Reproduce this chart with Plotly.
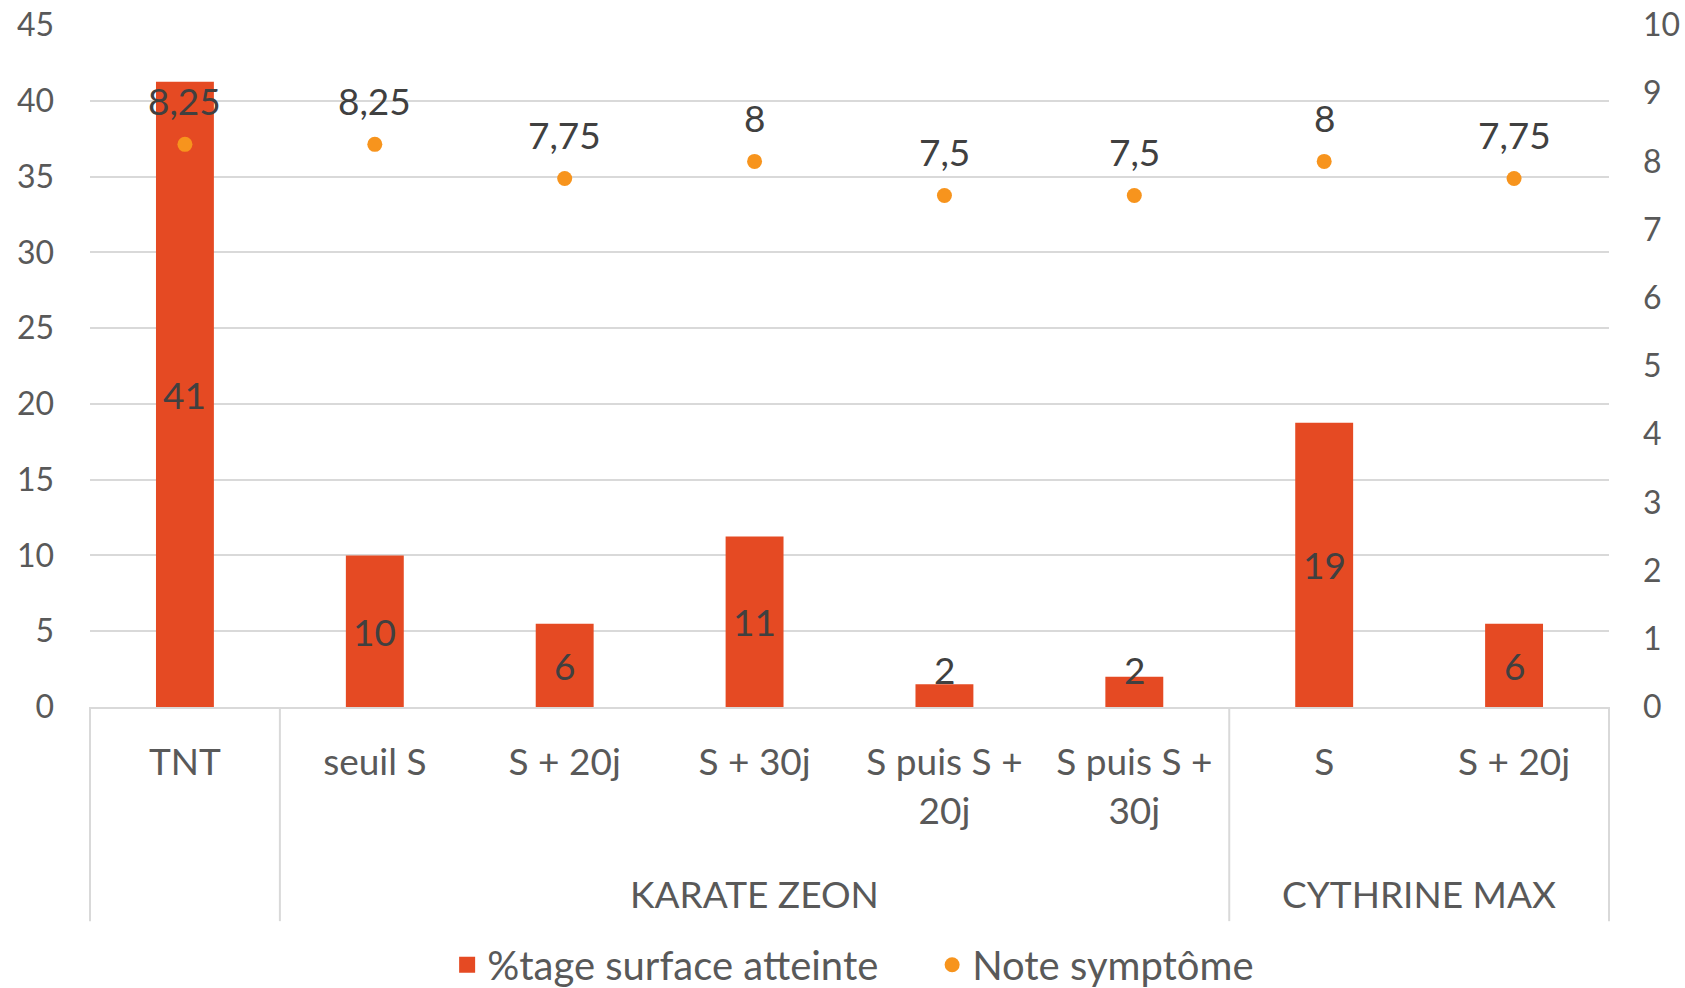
import plotly.graph_objects as go

groups = ["", "KARATE ZEON", "KARATE ZEON", "KARATE ZEON", "KARATE ZEON", "KARATE ZEON", "CYTHRINE MAX", "CYTHRINE MAX"]
categories = ["TNT", "seuil S", "S + 20j", "S + 30j", "S puis S +<br>20j", "S puis S +<br>30j", "S", "S + 20j"]
surface = [41.25, 10, 5.5, 11.25, 1.5, 2, 18.75, 5.5]
note = [8.25, 8.25, 7.75, 8, 7.5, 7.5, 8, 7.75]

FONT = "Lato"
BAR_COLOR = "#E54A23"
DOT_COLOR = "#F7941D"
AXIS_TXT = "#595959"
LABEL_TXT = "#404040"
GRID = "#D9D9D9"
LABEL_MIN_Y = 2.5  # a centred bar label never sits lower than this (kept inside the plot)

n = len(categories)
xpos = list(range(n))

fig = go.Figure()
fig.add_trace(go.Bar(
    x=xpos, y=surface, name="%tage surface atteinte", showlegend=False,
    marker=dict(color=BAR_COLOR, line=dict(width=0)),
))
# legend entry for the bar series (larger square swatch)
fig.add_trace(go.Scatter(
    x=[None], y=[None], name="%tage surface atteinte", mode="markers",
    marker=dict(color=BAR_COLOR, size=16, symbol="square"),
))
fig.add_trace(go.Scatter(
    x=xpos, y=note, name="Note symptôme", yaxis="y2",
    mode="markers", marker=dict(color=DOT_COLOR, size=15), cliponaxis=False,
))

# centred bar labels (rounded), clamped so they stay within the plot area
for xi, v in zip(xpos, surface):
    fig.add_annotation(x=xi, y=max(v / 2, LABEL_MIN_Y), xref="x", yref="y",
                       text=f"{v:.0f}" if v != int(v) + 0.5 else str(int(v) + 1),
                       showarrow=False, yanchor="middle",
                       font=dict(family=FONT, size=37, color=LABEL_TXT))

# data labels of the symptom score, placed above each point
for xi, v in zip(xpos, note):
    fig.add_annotation(x=xi, y=v, xref="x", yref="y2", yshift=44,
                       text=f"{v:g}".replace(".", ","), showarrow=False,
                       yanchor="middle",
                       font=dict(family=FONT, size=37, color=LABEL_TXT))

# group spans (contiguous runs) -> dividers and group labels
runs = []
start = 0
for i in range(1, n + 1):
    if i == n or groups[i] != groups[start]:
        runs.append((groups[start], start, i - 1))
        start = i

DIV_BOTTOM = -0.314
bounds = sorted({s for _, s, _ in runs} | {e + 1 for _, _, e in runs})
for b in bounds:
    fig.add_shape(type="line", xref="paper", yref="paper",
                  x0=b / n, x1=b / n, y0=0, y1=DIV_BOTTOM,
                  line=dict(color=GRID, width=2))
for g, s, e in runs:
    if g:
        fig.add_annotation(x=(s + e) / 2, xref="x", y=-0.274, yref="paper",
                           text=g, showarrow=False, yanchor="middle",
                           font=dict(family=FONT, size=37, color=AXIS_TXT))

fig.update_layout(
    width=1685, height=988,
    margin=dict(l=90, r=76, t=25, b=281, autoexpand=False),
    paper_bgcolor="white", plot_bgcolor="white",
    separators=", ",
    font=dict(family=FONT, size=37, color=AXIS_TXT),
    bargap=0.695,
    showlegend=True,
    legend=dict(orientation="h", x=0.5544, xanchor="center", y=-0.378, yanchor="middle",
                font=dict(family=FONT, size=40, color=AXIS_TXT), itemsizing="trace",
                traceorder="normal", entrywidth=440),
    xaxis=dict(range=[-0.5, n - 0.5], tickvals=xpos, ticktext=categories,
               showline=True, linecolor=GRID, linewidth=2, showgrid=False, zeroline=False,
               ticks="", ticklabelstandoff=22, automargin=False,
               tickfont=dict(family=FONT, size=37, color=AXIS_TXT)),
    yaxis=dict(range=[0, 45], dtick=5, showgrid=True, gridcolor=GRID, gridwidth=2,
               zeroline=False, ticks="", ticklabelstandoff=35, automargin=False,
               tickfont=dict(family=FONT, size=32, color=AXIS_TXT)),
    yaxis2=dict(range=[0, 10], dtick=1, overlaying="y", side="right", showgrid=False,
                zeroline=False, ticks="", ticklabelstandoff=33, automargin=False,
                tickfont=dict(family=FONT, size=32, color=AXIS_TXT)),
)

fig.write_html("out.html", config={"displayModeBar": False},
               post_script="document.body.style.margin='0';")
